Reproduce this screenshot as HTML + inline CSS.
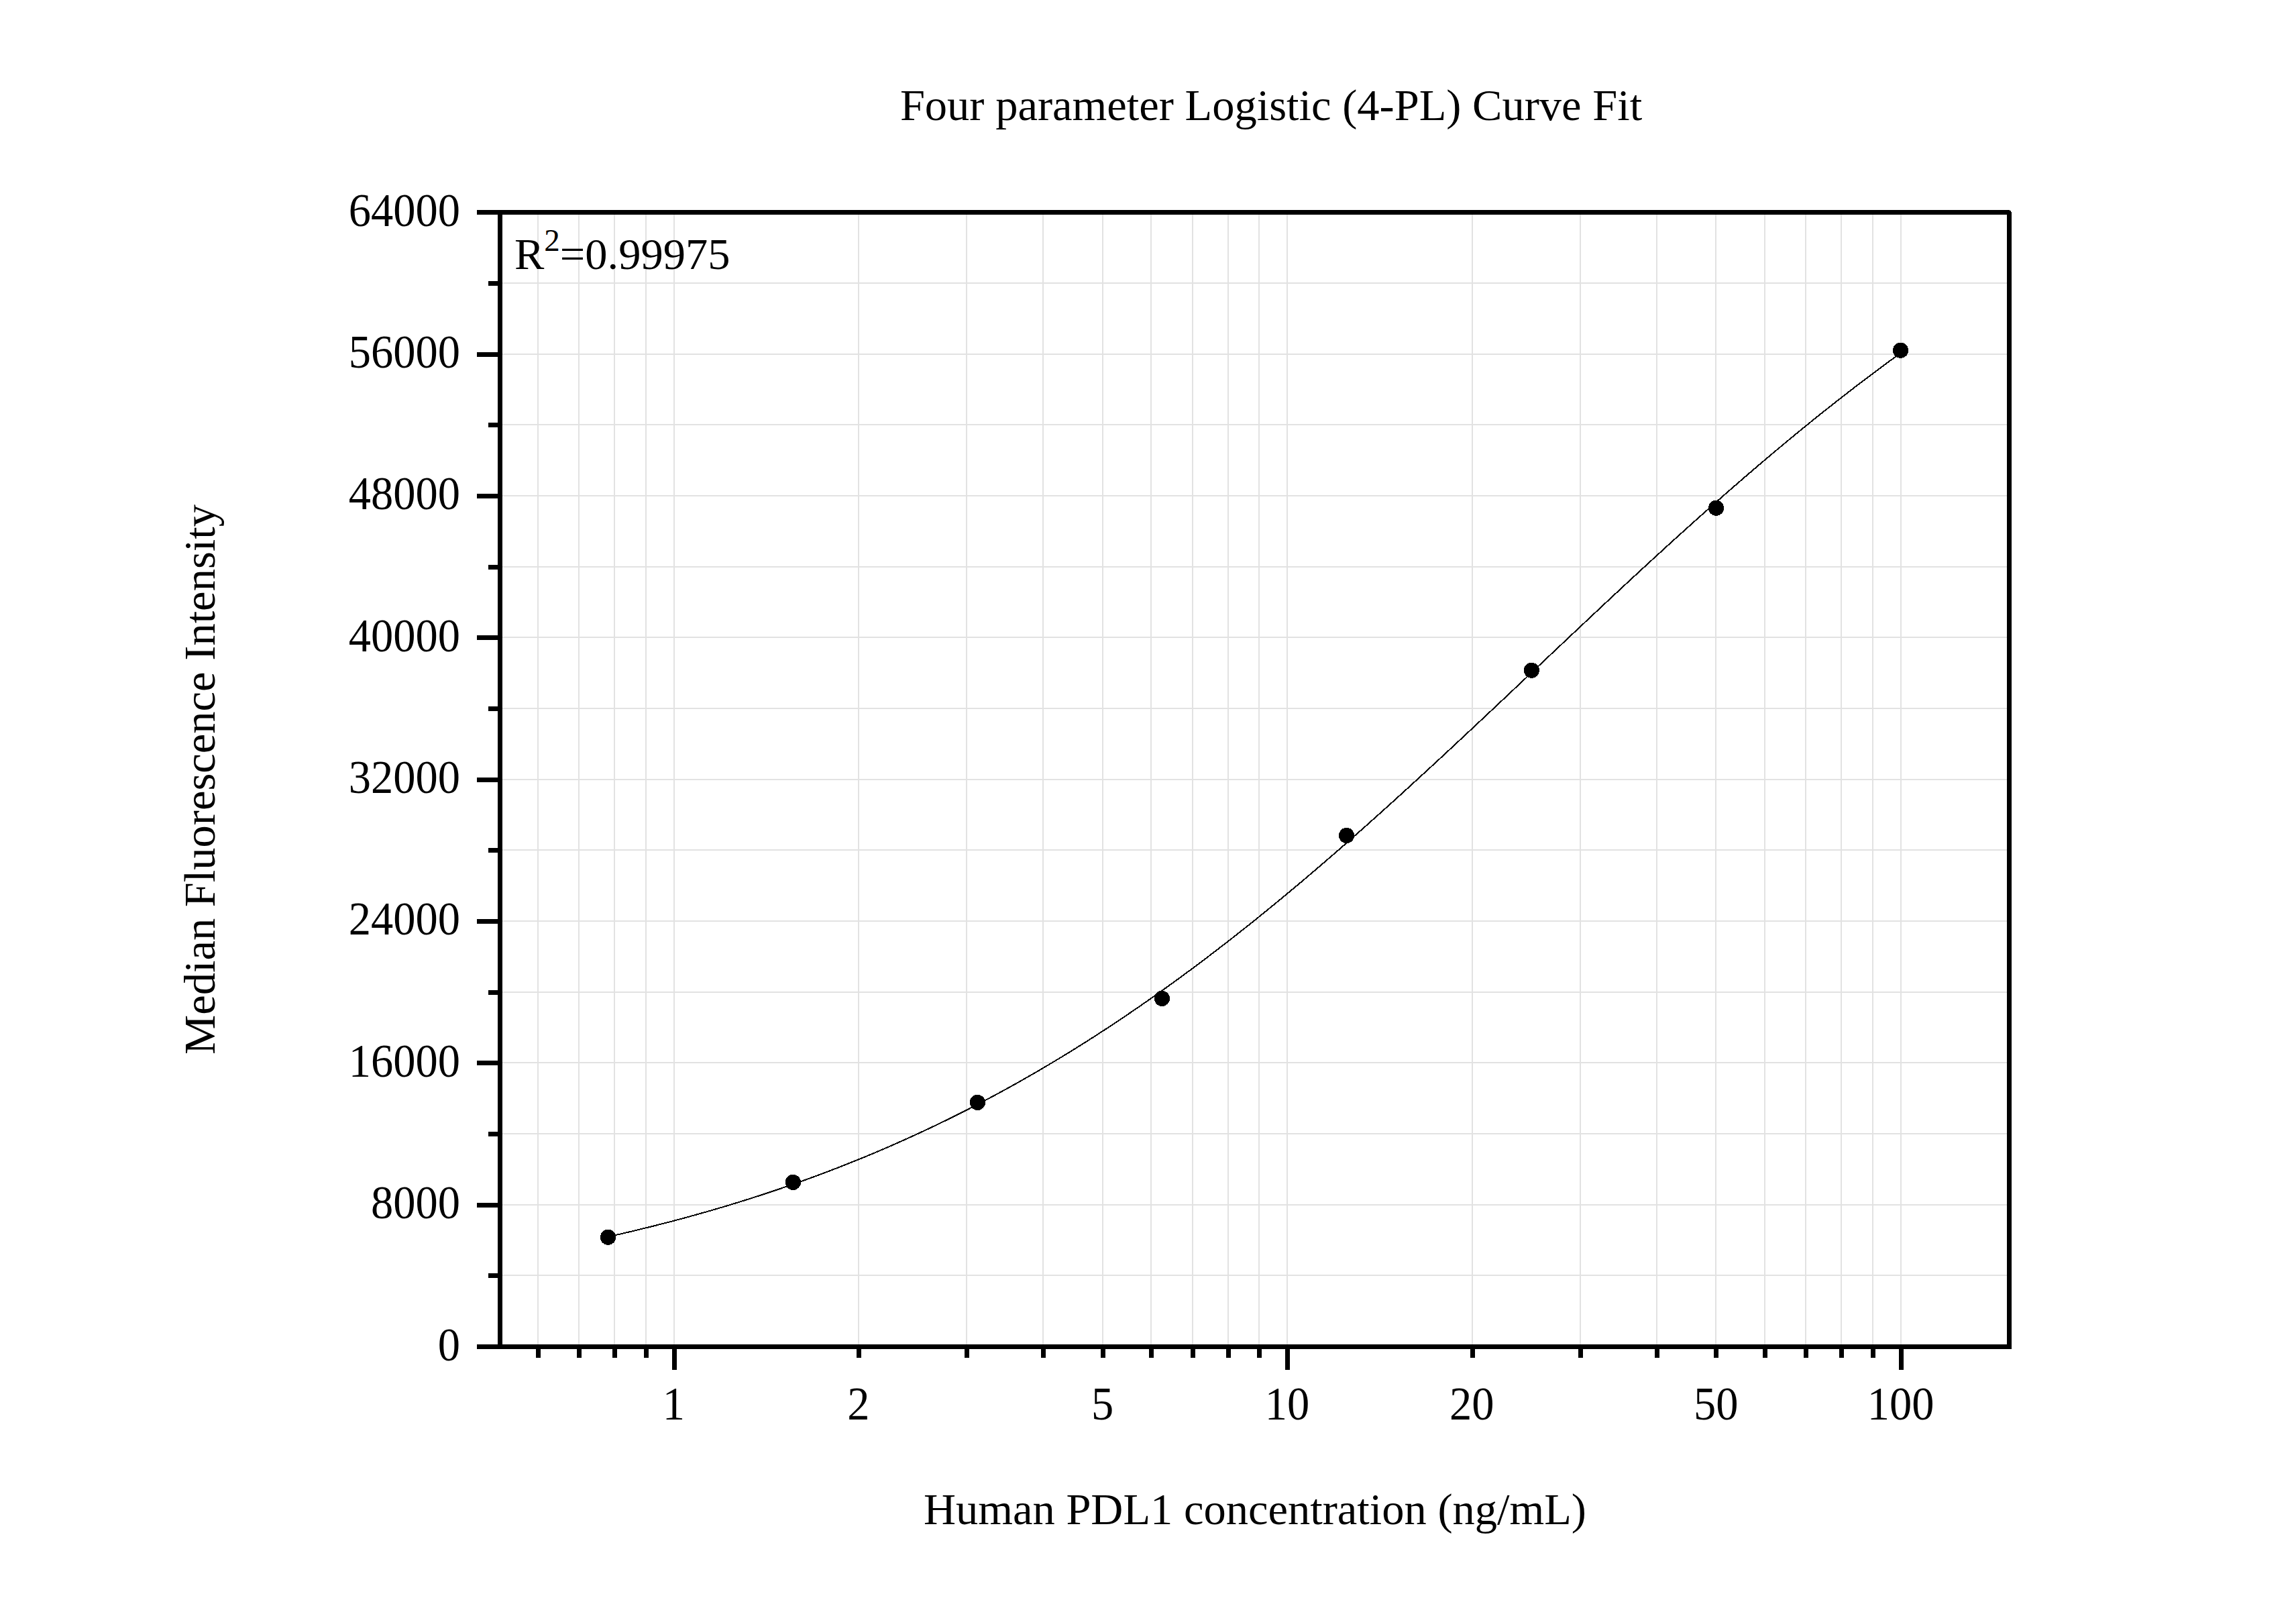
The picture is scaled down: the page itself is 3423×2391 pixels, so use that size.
<!DOCTYPE html>
<html><head><meta charset="utf-8"><title>4-PL Curve Fit</title>
<style>html,body{margin:0;padding:0;background:#fff;width:3423px;height:2391px;overflow:hidden;position:relative}</style>
</head><body>
<svg width="3423" height="2391" viewBox="0 0 3423 2391" style="position:absolute;left:0;top:0">
<rect x="0" y="0" width="3423" height="2391" fill="#fff"/>
<rect x="801" y="320" width="2" height="1684" fill="#e2e2e2"/>
<rect x="862" y="320" width="2" height="1684" fill="#e2e2e2"/>
<rect x="915" y="320" width="2" height="1684" fill="#e2e2e2"/>
<rect x="962" y="320" width="2" height="1684" fill="#e2e2e2"/>
<rect x="1004" y="320" width="2" height="1684" fill="#e2e2e2"/>
<rect x="1279" y="320" width="2" height="1684" fill="#e2e2e2"/>
<rect x="1440" y="320" width="2" height="1684" fill="#e2e2e2"/>
<rect x="1554" y="320" width="2" height="1684" fill="#e2e2e2"/>
<rect x="1643" y="320" width="2" height="1684" fill="#e2e2e2"/>
<rect x="1715" y="320" width="2" height="1684" fill="#e2e2e2"/>
<rect x="1777" y="320" width="2" height="1684" fill="#e2e2e2"/>
<rect x="1830" y="320" width="2" height="1684" fill="#e2e2e2"/>
<rect x="1876" y="320" width="2" height="1684" fill="#e2e2e2"/>
<rect x="1918" y="320" width="2" height="1684" fill="#e2e2e2"/>
<rect x="2194" y="320" width="2" height="1684" fill="#e2e2e2"/>
<rect x="2355" y="320" width="2" height="1684" fill="#e2e2e2"/>
<rect x="2469" y="320" width="2" height="1684" fill="#e2e2e2"/>
<rect x="2557" y="320" width="2" height="1684" fill="#e2e2e2"/>
<rect x="2630" y="320" width="2" height="1684" fill="#e2e2e2"/>
<rect x="2691" y="320" width="2" height="1684" fill="#e2e2e2"/>
<rect x="2744" y="320" width="2" height="1684" fill="#e2e2e2"/>
<rect x="2791" y="320" width="2" height="1684" fill="#e2e2e2"/>
<rect x="2833" y="320" width="2" height="1684" fill="#e2e2e2"/>
<rect x="749" y="1900" width="2243" height="2" fill="#e2e2e2"/>
<rect x="749" y="1795" width="2243" height="2" fill="#e2e2e2"/>
<rect x="749" y="1689" width="2243" height="2" fill="#e2e2e2"/>
<rect x="749" y="1583" width="2243" height="2" fill="#e2e2e2"/>
<rect x="749" y="1478" width="2243" height="2" fill="#e2e2e2"/>
<rect x="749" y="1372" width="2243" height="2" fill="#e2e2e2"/>
<rect x="749" y="1266" width="2243" height="2" fill="#e2e2e2"/>
<rect x="749" y="1161" width="2243" height="2" fill="#e2e2e2"/>
<rect x="749" y="1055" width="2243" height="2" fill="#e2e2e2"/>
<rect x="749" y="949" width="2243" height="2" fill="#e2e2e2"/>
<rect x="749" y="844" width="2243" height="2" fill="#e2e2e2"/>
<rect x="749" y="738" width="2243" height="2" fill="#e2e2e2"/>
<rect x="749" y="632" width="2243" height="2" fill="#e2e2e2"/>
<rect x="749" y="527" width="2243" height="2" fill="#e2e2e2"/>
<rect x="749" y="421" width="2243" height="2" fill="#e2e2e2"/>
<polyline points="906.5,1843.65 910.5,1842.75 914.5,1841.85 918.5,1840.94 922.5,1840.02 926.5,1839.09 930.5,1838.16 934.5,1837.22 938.5,1836.28 942.5,1835.33 946.5,1834.37 950.5,1833.41 954.5,1832.44 958.5,1831.47 962.5,1830.48 966.5,1829.49 970.5,1828.50 974.5,1827.50 978.5,1826.49 982.5,1825.47 986.5,1824.45 990.5,1823.42 994.5,1822.38 998.5,1821.34 1002.5,1820.29 1006.5,1819.23 1010.5,1818.17 1014.5,1817.10 1018.5,1816.02 1022.5,1814.93 1026.5,1813.84 1030.5,1812.74 1034.5,1811.63 1038.5,1810.52 1042.5,1809.40 1046.5,1808.27 1050.5,1807.13 1054.5,1805.99 1058.5,1804.84 1062.5,1803.68 1066.5,1802.51 1070.5,1801.34 1074.5,1800.16 1078.5,1798.97 1082.5,1797.77 1086.5,1796.57 1090.5,1795.36 1094.5,1794.14 1098.5,1792.91 1102.5,1791.67 1106.5,1790.43 1110.5,1789.18 1114.5,1787.92 1118.5,1786.65 1122.5,1785.38 1126.5,1784.09 1130.5,1782.80 1134.5,1781.50 1138.5,1780.19 1142.5,1778.88 1146.5,1777.55 1150.5,1776.22 1154.5,1774.88 1158.5,1773.53 1162.5,1772.17 1166.5,1770.80 1170.5,1769.43 1174.5,1768.04 1178.5,1766.65 1182.5,1765.25 1186.5,1763.84 1190.5,1762.42 1194.5,1760.99 1198.5,1759.56 1202.5,1758.11 1206.5,1756.66 1210.5,1755.20 1214.5,1753.72 1218.5,1752.24 1222.5,1750.75 1226.5,1749.26 1230.5,1747.75 1234.5,1746.23 1238.5,1744.71 1242.5,1743.17 1246.5,1741.63 1250.5,1740.07 1254.5,1738.51 1258.5,1736.94 1262.5,1735.36 1266.5,1733.76 1270.5,1732.16 1274.5,1730.55 1278.5,1728.93 1282.5,1727.31 1286.5,1725.67 1290.5,1724.02 1294.5,1722.36 1298.5,1720.69 1302.5,1719.02 1306.5,1717.33 1310.5,1715.63 1314.5,1713.92 1318.5,1712.21 1322.5,1710.48 1326.5,1708.74 1330.5,1707.00 1334.5,1705.24 1338.5,1703.48 1342.5,1701.70 1346.5,1699.91 1350.5,1698.12 1354.5,1696.31 1358.5,1694.49 1362.5,1692.67 1366.5,1690.83 1370.5,1688.98 1374.5,1687.12 1378.5,1685.25 1382.5,1683.38 1386.5,1681.49 1390.5,1679.59 1394.5,1677.68 1398.5,1675.76 1402.5,1673.83 1406.5,1671.88 1410.5,1669.93 1414.5,1667.97 1418.5,1666.00 1422.5,1664.01 1426.5,1662.02 1430.5,1660.01 1434.5,1658.00 1438.5,1655.97 1442.5,1653.93 1446.5,1651.89 1450.5,1649.83 1454.5,1647.76 1458.5,1645.68 1462.5,1643.58 1466.5,1641.48 1470.5,1639.37 1474.5,1637.24 1478.5,1635.11 1482.5,1632.96 1486.5,1630.81 1490.5,1628.64 1494.5,1626.46 1498.5,1624.27 1502.5,1622.07 1506.5,1619.85 1510.5,1617.63 1514.5,1615.40 1518.5,1613.15 1522.5,1610.89 1526.5,1608.63 1530.5,1606.35 1534.5,1604.06 1538.5,1601.75 1542.5,1599.44 1546.5,1597.12 1550.5,1594.78 1554.5,1592.44 1558.5,1590.08 1562.5,1587.71 1566.5,1585.33 1570.5,1582.94 1574.5,1580.53 1578.5,1578.12 1582.5,1575.70 1586.5,1573.26 1590.5,1570.81 1594.5,1568.35 1598.5,1565.88 1602.5,1563.40 1606.5,1560.91 1610.5,1558.40 1614.5,1555.88 1618.5,1553.36 1622.5,1550.82 1626.5,1548.27 1630.5,1545.71 1634.5,1543.14 1638.5,1540.55 1642.5,1537.96 1646.5,1535.35 1650.5,1532.73 1654.5,1530.10 1658.5,1527.46 1662.5,1524.81 1666.5,1522.15 1670.5,1519.47 1674.5,1516.79 1678.5,1514.09 1682.5,1511.38 1686.5,1508.66 1690.5,1505.93 1694.5,1503.19 1698.5,1500.44 1702.5,1497.68 1706.5,1494.90 1710.5,1492.12 1714.5,1489.32 1718.5,1486.51 1722.5,1483.69 1726.5,1480.86 1730.5,1478.02 1734.5,1475.17 1738.5,1472.30 1742.5,1469.43 1746.5,1466.54 1750.5,1463.65 1754.5,1460.74 1758.5,1457.82 1762.5,1454.89 1766.5,1451.95 1770.5,1449.00 1774.5,1446.04 1778.5,1443.07 1782.5,1440.09 1786.5,1437.10 1790.5,1434.09 1794.5,1431.08 1798.5,1428.05 1802.5,1425.02 1806.5,1421.97 1810.5,1418.92 1814.5,1415.85 1818.5,1412.77 1822.5,1409.69 1826.5,1406.59 1830.5,1403.48 1834.5,1400.36 1838.5,1397.24 1842.5,1394.10 1846.5,1390.95 1850.5,1387.79 1854.5,1384.62 1858.5,1381.45 1862.5,1378.26 1866.5,1375.06 1870.5,1371.85 1874.5,1368.64 1878.5,1365.41 1882.5,1362.17 1886.5,1358.93 1890.5,1355.67 1894.5,1352.41 1898.5,1349.14 1902.5,1345.85 1906.5,1342.56 1910.5,1339.26 1914.5,1335.95 1918.5,1332.63 1922.5,1329.30 1926.5,1325.96 1930.5,1322.62 1934.5,1319.26 1938.5,1315.90 1942.5,1312.53 1946.5,1309.15 1950.5,1305.76 1954.5,1302.36 1958.5,1298.95 1962.5,1295.54 1966.5,1292.12 1970.5,1288.69 1974.5,1285.25 1978.5,1281.80 1982.5,1278.35 1986.5,1274.88 1990.5,1271.41 1994.5,1267.94 1998.5,1264.45 2002.5,1260.96 2006.5,1257.46 2010.5,1253.95 2014.5,1250.43 2018.5,1246.91 2022.5,1243.38 2026.5,1239.85 2030.5,1236.30 2034.5,1232.75 2038.5,1229.20 2042.5,1225.63 2046.5,1222.06 2050.5,1218.49 2054.5,1214.91 2058.5,1211.32 2062.5,1207.72 2066.5,1204.12 2070.5,1200.51 2074.5,1196.90 2078.5,1193.28 2082.5,1189.66 2086.5,1186.03 2090.5,1182.39 2094.5,1178.75 2098.5,1175.10 2102.5,1171.45 2106.5,1167.79 2110.5,1164.13 2114.5,1160.47 2118.5,1156.79 2122.5,1153.12 2126.5,1149.44 2130.5,1145.75 2134.5,1142.06 2138.5,1138.37 2142.5,1134.67 2146.5,1130.97 2150.5,1127.26 2154.5,1123.55 2158.5,1119.84 2162.5,1116.12 2166.5,1112.40 2170.5,1108.67 2174.5,1104.94 2178.5,1101.21 2182.5,1097.48 2186.5,1093.74 2190.5,1090.00 2194.5,1086.26 2198.5,1082.51 2202.5,1078.76 2206.5,1075.01 2210.5,1071.26 2214.5,1067.50 2218.5,1063.74 2222.5,1059.98 2226.5,1056.22 2230.5,1052.46 2234.5,1048.69 2238.5,1044.93 2242.5,1041.16 2246.5,1037.39 2250.5,1033.62 2254.5,1029.85 2258.5,1026.07 2262.5,1022.30 2266.5,1018.52 2270.5,1014.75 2274.5,1010.97 2278.5,1007.20 2282.5,1003.42 2286.5,999.64 2290.5,995.87 2294.5,992.09 2298.5,988.31 2302.5,984.54 2306.5,980.76 2310.5,976.99 2314.5,973.21 2318.5,969.44 2322.5,965.66 2326.5,961.89 2330.5,958.12 2334.5,954.35 2338.5,950.58 2342.5,946.81 2346.5,943.05 2350.5,939.28 2354.5,935.52 2358.5,931.76 2362.5,928.00 2366.5,924.24 2370.5,920.49 2374.5,916.74 2378.5,912.99 2382.5,909.24 2386.5,905.50 2390.5,901.75 2394.5,898.01 2398.5,894.28 2402.5,890.55 2406.5,886.82 2410.5,883.09 2414.5,879.37 2418.5,875.65 2422.5,871.93 2426.5,868.22 2430.5,864.51 2434.5,860.80 2438.5,857.10 2442.5,853.41 2446.5,849.72 2450.5,846.03 2454.5,842.35 2458.5,838.67 2462.5,834.99 2466.5,831.32 2470.5,827.66 2474.5,824.00 2478.5,820.35 2482.5,816.70 2486.5,813.05 2490.5,809.41 2494.5,805.78 2498.5,802.15 2502.5,798.53 2506.5,794.92 2510.5,791.31 2514.5,787.70 2518.5,784.10 2522.5,780.51 2526.5,776.93 2530.5,773.35 2534.5,769.77 2538.5,766.21 2542.5,762.65 2546.5,759.09 2550.5,755.55 2554.5,752.01 2558.5,748.47 2562.5,744.95 2566.5,741.43 2570.5,737.92 2574.5,734.42 2578.5,730.92 2582.5,727.43 2586.5,723.95 2590.5,720.47 2594.5,717.01 2598.5,713.55 2602.5,710.10 2606.5,706.66 2610.5,703.22 2614.5,699.79 2618.5,696.38 2622.5,692.97 2626.5,689.56 2630.5,686.17 2634.5,682.79 2638.5,679.41 2642.5,676.04 2646.5,672.68 2650.5,669.33 2654.5,665.99 2658.5,662.66 2662.5,659.33 2666.5,656.02 2670.5,652.71 2674.5,649.42 2678.5,646.13 2682.5,642.85 2686.5,639.58 2690.5,636.32 2694.5,633.07 2698.5,629.83 2702.5,626.60 2706.5,623.38 2710.5,620.17 2714.5,616.96 2718.5,613.77 2722.5,610.59 2726.5,607.42 2730.5,604.25 2734.5,601.10 2738.5,597.96 2742.5,594.82 2746.5,591.70 2750.5,588.59 2754.5,585.49 2758.5,582.39 2762.5,579.31 2766.5,576.24 2770.5,573.18 2774.5,570.13 2778.5,567.09 2782.5,564.06 2786.5,561.04 2790.5,558.03 2794.5,555.03 2798.5,552.04 2802.5,549.07 2806.5,546.10 2810.5,543.14 2814.5,540.20 2818.5,537.27 2822.5,534.34 2826.5,531.43 2830.5,528.53 2833.5,526.36" fill="none" stroke="#000" stroke-width="2" shape-rendering="crispEdges"/>
<circle cx="906.5" cy="1844.3" r="11.6" fill="#000" shape-rendering="crispEdges"/>
<circle cx="1182.4" cy="1762.4" r="11.6" fill="#000" shape-rendering="crispEdges"/>
<circle cx="1457.4" cy="1643.4" r="11.6" fill="#000" shape-rendering="crispEdges"/>
<circle cx="1732.4" cy="1488.4" r="11.6" fill="#000" shape-rendering="crispEdges"/>
<circle cx="2007.5" cy="1245.4" r="11.6" fill="#000" shape-rendering="crispEdges"/>
<circle cx="2283.4" cy="999.3" r="11.6" fill="#000" shape-rendering="crispEdges"/>
<circle cx="2558.5" cy="757.3" r="11.6" fill="#000" shape-rendering="crispEdges"/>
<circle cx="2833.5" cy="522.3" r="11.6" fill="#000" shape-rendering="crispEdges"/>
<rect x="742" y="313" width="2257" height="7" fill="#000"/>
<rect x="742" y="2004" width="2257" height="7" fill="#000"/>
<rect x="742" y="313" width="7" height="1698" fill="#000"/>
<rect x="2992" y="313" width="7" height="1698" fill="#000"/>
<rect x="2996" y="313" width="3" height="1" fill="#fff"/><rect x="2998" y="314" width="1" height="2" fill="#fff"/>
<rect x="799" y="2011" width="7" height="13" fill="#000"/>
<rect x="860" y="2011" width="7" height="13" fill="#000"/>
<rect x="913" y="2011" width="7" height="13" fill="#000"/>
<rect x="960" y="2011" width="7" height="13" fill="#000"/>
<rect x="1002" y="2011" width="7" height="31" fill="#000"/>
<rect x="1277" y="2011" width="7" height="13" fill="#000"/>
<rect x="1438" y="2011" width="7" height="13" fill="#000"/>
<rect x="1552" y="2011" width="7" height="13" fill="#000"/>
<rect x="1641" y="2011" width="7" height="13" fill="#000"/>
<rect x="1713" y="2011" width="7" height="13" fill="#000"/>
<rect x="1775" y="2011" width="7" height="13" fill="#000"/>
<rect x="1828" y="2011" width="7" height="13" fill="#000"/>
<rect x="1874" y="2011" width="7" height="13" fill="#000"/>
<rect x="1916" y="2011" width="7" height="31" fill="#000"/>
<rect x="2192" y="2011" width="7" height="13" fill="#000"/>
<rect x="2353" y="2011" width="7" height="13" fill="#000"/>
<rect x="2467" y="2011" width="7" height="13" fill="#000"/>
<rect x="2555" y="2011" width="7" height="13" fill="#000"/>
<rect x="2628" y="2011" width="7" height="13" fill="#000"/>
<rect x="2689" y="2011" width="7" height="13" fill="#000"/>
<rect x="2742" y="2011" width="7" height="13" fill="#000"/>
<rect x="2789" y="2011" width="7" height="13" fill="#000"/>
<rect x="2831" y="2011" width="7" height="31" fill="#000"/>
<rect x="711" y="2004" width="31" height="7" fill="#000"/>
<rect x="728" y="1898" width="14" height="7" fill="#000"/>
<rect x="711" y="1793" width="31" height="7" fill="#000"/>
<rect x="728" y="1687" width="14" height="7" fill="#000"/>
<rect x="711" y="1581" width="31" height="7" fill="#000"/>
<rect x="728" y="1476" width="14" height="7" fill="#000"/>
<rect x="711" y="1370" width="31" height="7" fill="#000"/>
<rect x="728" y="1264" width="14" height="7" fill="#000"/>
<rect x="711" y="1159" width="31" height="7" fill="#000"/>
<rect x="728" y="1053" width="14" height="7" fill="#000"/>
<rect x="711" y="947" width="31" height="7" fill="#000"/>
<rect x="728" y="842" width="14" height="7" fill="#000"/>
<rect x="711" y="736" width="31" height="7" fill="#000"/>
<rect x="728" y="630" width="14" height="7" fill="#000"/>
<rect x="711" y="525" width="31" height="7" fill="#000"/>
<rect x="728" y="419" width="14" height="7" fill="#000"/>
<rect x="711" y="313" width="31" height="7" fill="#000"/>
<text transform="translate(686,2027.5) scale(1,1.05)" font-family="Liberation Serif, serif" font-size="66.5" text-anchor="end">0</text>
<text transform="translate(686,1816.1) scale(1,1.05)" font-family="Liberation Serif, serif" font-size="66.5" text-anchor="end">8000</text>
<text transform="translate(686,1604.8) scale(1,1.05)" font-family="Liberation Serif, serif" font-size="66.5" text-anchor="end">16000</text>
<text transform="translate(686,1393.4) scale(1,1.05)" font-family="Liberation Serif, serif" font-size="66.5" text-anchor="end">24000</text>
<text transform="translate(686,1182.0) scale(1,1.05)" font-family="Liberation Serif, serif" font-size="66.5" text-anchor="end">32000</text>
<text transform="translate(686,970.6) scale(1,1.05)" font-family="Liberation Serif, serif" font-size="66.5" text-anchor="end">40000</text>
<text transform="translate(686,759.2) scale(1,1.05)" font-family="Liberation Serif, serif" font-size="66.5" text-anchor="end">48000</text>
<text transform="translate(686,547.9) scale(1,1.05)" font-family="Liberation Serif, serif" font-size="66.5" text-anchor="end">56000</text>
<text transform="translate(686,336.5) scale(1,1.05)" font-family="Liberation Serif, serif" font-size="66.5" text-anchor="end">64000</text>
<text transform="translate(1004.5,2116) scale(1,1.05)" font-family="Liberation Serif, serif" font-size="66.5" text-anchor="middle">1</text>
<text transform="translate(1279.8,2116) scale(1,1.05)" font-family="Liberation Serif, serif" font-size="66.5" text-anchor="middle">2</text>
<text transform="translate(1643.7,2116) scale(1,1.05)" font-family="Liberation Serif, serif" font-size="66.5" text-anchor="middle">5</text>
<text transform="translate(1919.0,2116) scale(1,1.05)" font-family="Liberation Serif, serif" font-size="66.5" text-anchor="middle">10</text>
<text transform="translate(2194.3,2116) scale(1,1.05)" font-family="Liberation Serif, serif" font-size="66.5" text-anchor="middle">20</text>
<text transform="translate(2558.2,2116) scale(1,1.05)" font-family="Liberation Serif, serif" font-size="66.5" text-anchor="middle">50</text>
<text transform="translate(2833.5,2116) scale(1,1.05)" font-family="Liberation Serif, serif" font-size="66.5" text-anchor="middle">100</text>
<text x="1895" y="179" font-family="Liberation Serif, serif" font-size="66.5" text-anchor="middle">Four parameter Logistic (4-PL) Curve Fit</text>
<text x="1871" y="2272" font-family="Liberation Serif, serif" font-size="66.5" text-anchor="middle">Human PDL1 concentration (ng/mL)</text>
<text transform="translate(320,1162) rotate(-90)" x="0" y="0" font-family="Liberation Serif, serif" font-size="66.5" text-anchor="middle">Median Fluorescence Intensity</text>
<text x="767" y="401" font-family="Liberation Serif, serif" font-size="66.5">R<tspan font-size="47" dy="-27">2</tspan><tspan dy="27">=0.99975</tspan></text>
</svg>
</body></html>
